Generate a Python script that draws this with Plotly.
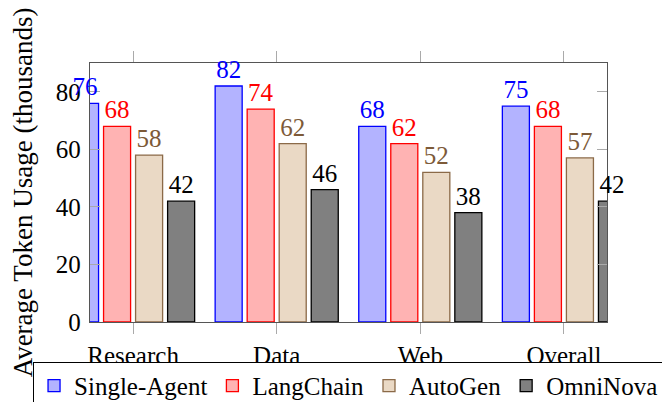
import plotly.graph_objects as go

categories = ["Research", "Data", "Web", "Overall"]
series_names = ["Single-Agent", "LangChain", "AutoGen", "OmniNova"]
single_agent = [76, 82, 68, 75]
langchain = [68, 74, 62, 68]
autogen = [58, 62, 52, 57]
omninova = [42, 46, 38, 42]
y_ticks = [0, 20, 40, 60, 80]

values = [single_agent, langchain, autogen, omninova]
fills = ["#b3b3ff", "#ffb3b3", "#ead9c5", "#808080"]
edges = ["#0000ff", "#ff0000", "#8b6a48", "#000000"]
text_colors = ["#0000ff", "#ff0000", "#7d5a38", "#000000"]

FONT = "Liberation Serif"

fig = go.Figure()
# visible bars, clipped to the framed plot area
for name, vals, fc, ec in zip(series_names, values, fills, edges):
    fig.add_trace(go.Bar(
        x=categories, y=vals, name=name,
        marker=dict(color=fc, line=dict(color=ec, width=1.3)),
        xaxis="x", yaxis="y",
    ))
# value labels: same bars on a wider, hidden twin axis with identical scale,
# so labels of bars that stick out of the frame stay visible
for name, vals, tc in zip(series_names, values, text_colors):
    fig.add_trace(go.Bar(
        x=categories, y=vals, name=name, showlegend=False, hoverinfo="skip",
        marker=dict(color="rgba(0,0,0,0)", line=dict(width=0)),
        text=[str(v) for v in vals], textposition="outside",
        textfont=dict(family=FONT, size=25, color=tc),
        constraintext="none", cliponaxis=False,
        xaxis="x2", yaxis="y2",
    ))

fig.update_layout(
    width=670, height=402,
    margin=dict(l=30, r=20, t=55, b=88, autoexpand=False),
    paper_bgcolor="white", plot_bgcolor="rgba(0,0,0,0)",
    barmode="group", bargap=0.108, bargroupgap=0.156,
    font=dict(family=FONT, size=25, color="black"),
    showlegend=True,
    legend=dict(
        orientation="h", x=-0.008, xanchor="left", y=-0.154, yanchor="top",
        bordercolor="black", borderwidth=1, bgcolor="white",
        font=dict(family=FONT, size=25, color="black"),
        itemwidth=30, tracegroupgap=0,
    ),
    xaxis=dict(
        domain=[0.08387, 0.91774], anchor="y",
        range=[-0.3, 3.3], showgrid=False, automargin=False,
        showline=True, linecolor="#555555", linewidth=1.3, mirror="ticks",
        ticks="outside", ticklen=11, tickcolor="#aaaaaa", tickwidth=1.3,
        tickfont=dict(family=FONT, size=25, color="black"),
    ),
    yaxis=dict(
        domain=[0, 1], anchor="x",
        range=[0, 90], tickvals=y_ticks, showgrid=False, zeroline=False, automargin=False,
        showline=True, linecolor="#555555", linewidth=1.3, mirror="ticks",
        ticks="inside", ticklen=10, tickcolor="#aaaaaa", tickwidth=1.3,
        ticklabelstandoff=3,
        tickfont=dict(family=FONT, size=25, color="black"),
        title=dict(text="Average Token Usage (thousands)", standoff=34,
                   font=dict(family=FONT, size=27, color="black")),
    ),
    xaxis2=dict(
        domain=[0, 1], anchor="y2", range=[-0.66209, 3.65513],
        visible=False, automargin=False,
    ),
    yaxis2=dict(
        domain=[0, 1], anchor="x2", range=[0, 90],
        visible=False, automargin=False,
    ),
)

fig.write_html("out.html")
